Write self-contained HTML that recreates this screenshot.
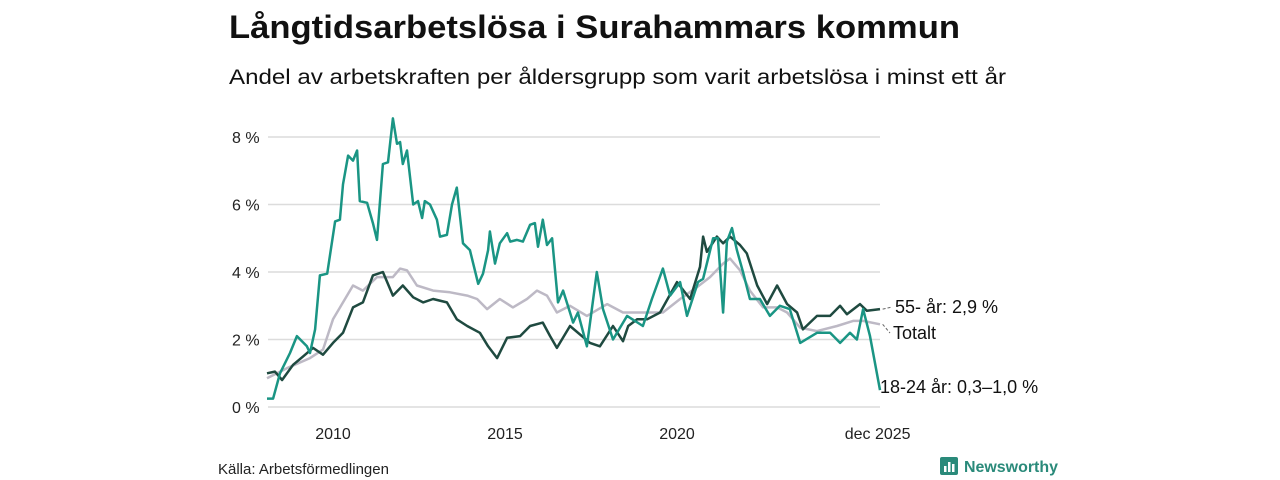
<!DOCTYPE html>
<html><head><meta charset="utf-8"><style>
html,body{margin:0;padding:0;background:#fff;}
svg{display:block;font-family:"Liberation Sans","DejaVu Sans",sans-serif;}
</style></head><body>
<svg id="chart" width="1280" height="480" viewBox="0 0 1280 480">
<text x="229" y="38" font-size="32" font-weight="bold" fill="#111" textLength="731" lengthAdjust="spacingAndGlyphs">Långtidsarbetslösa i Surahammars kommun</text>
<text x="229" y="84" font-size="21" fill="#111" textLength="777" lengthAdjust="spacingAndGlyphs">Andel av arbetskraften per åldersgrupp som varit arbetslösa i minst ett år</text>
<g id="grid"></g>
<g id="yticks"></g>
<g id="xticks"></g>
<g id="series"></g>
<g id="labels"></g>
<text x="218" y="474" font-size="15" fill="#222">Källa: Arbetsförmedlingen</text>
<g>
<rect x="940" y="457" width="18" height="18" rx="2" fill="#2a8a7a"/>
<rect x="944" y="466" width="2.5" height="6" fill="#fff"/><rect x="948" y="462" width="2.5" height="10" fill="#fff"/><rect x="952" y="464" width="2.5" height="8" fill="#fff"/>
<text x="964" y="472" font-size="16" font-weight="bold" fill="#2a8a7a" textLength="94" lengthAdjust="spacingAndGlyphs">Newsworthy</text>
</g>
</svg>
<script>
const yTicks=[0,2,4,6,8];
const yTickLabels=["0 %","2 %","4 %","6 %","8 %"];
const xTicks=[2010,2015,2020,2025.92];
const xTickLabels=["2010","2015","2020","dec 2025"];
const youthDates=[2008.08,2008.26,2008.46,2008.75,2008.95,2009.24,2009.33,2009.48,2009.62,2009.83,2010.06,2010.2,2010.29,2010.44,2010.58,2010.7,2010.78,2010.99,2011.16,2011.28,2011.45,2011.6,2011.74,2011.86,2011.95,2012.03,2012.15,2012.33,2012.47,2012.59,2012.67,2012.82,2013.02,2013.11,2013.31,2013.46,2013.6,2013.78,2013.98,2014.22,2014.36,2014.51,2014.56,2014.71,2014.85,2015.06,2015.15,2015.35,2015.52,2015.73,2015.87,2015.96,2016.1,2016.22,2016.37,2016.54,2016.69,2016.89,2016.98,2017.12,2017.38,2017.67,2017.85,2018.14,2018.55,2019.01,2019.27,2019.59,2019.8,2020.09,2020.29,2020.61,2020.76,2021.05,2021.19,2021.34,2021.45,2021.6,2021.74,2021.92,2022.12,2022.41,2022.7,2022.99,2023.28,2023.58,2024.07,2024.45,2024.74,2025.03,2025.23,2025.41,2025.61,2025.9];
const youthValues=[0.25,0.25,1.0,1.6,2.1,1.8,1.6,2.3,3.9,3.95,5.5,5.55,6.6,7.45,7.3,7.6,6.1,6.05,5.45,4.95,7.2,7.25,8.55,7.8,7.85,7.2,7.6,6.0,6.1,5.6,6.1,6.0,5.55,5.05,5.1,6.0,6.5,4.85,4.65,3.65,3.95,4.65,5.2,4.25,4.85,5.15,4.9,4.95,4.9,5.4,5.45,4.75,5.55,4.8,5.0,3.1,3.45,2.8,2.5,2.8,1.8,4.0,2.9,2.0,2.7,2.4,3.2,4.1,3.3,3.7,2.7,3.7,3.8,5.0,5.0,2.8,4.9,5.3,4.65,4.0,3.2,3.2,2.7,3.0,2.9,1.9,2.2,2.2,1.9,2.2,2.0,2.9,2.1,0.5];
const olderDates=[2008.08,2008.31,2008.52,2008.84,2009.13,2009.42,2009.71,2010,2010.29,2010.58,2010.87,2011.16,2011.45,2011.74,2012.03,2012.33,2012.62,2012.91,2013.31,2013.6,2013.9,2014.27,2014.51,2014.77,2015.06,2015.44,2015.73,2016.1,2016.31,2016.51,2016.89,2017.47,2017.76,2018.14,2018.43,2018.58,2018.84,2019.13,2019.51,2020,2020.38,2020.67,2020.76,2020.87,2021.16,2021.34,2021.54,2021.83,2022.03,2022.33,2022.62,2022.91,2023.2,2023.49,2023.66,2024.07,2024.45,2024.74,2024.94,2025.32,2025.52,2025.9];
const olderValues=[1.0,1.05,0.8,1.25,1.5,1.75,1.55,1.9,2.2,2.95,3.1,3.9,4.0,3.3,3.6,3.25,3.1,3.2,3.1,2.6,2.4,2.2,1.8,1.45,2.05,2.1,2.4,2.5,2.1,1.75,2.4,1.9,1.8,2.4,1.95,2.4,2.6,2.6,2.8,3.7,3.2,4.15,5.05,4.6,5.05,4.85,5.05,4.8,4.55,3.6,3.05,3.6,3.05,2.8,2.3,2.7,2.7,3.0,2.75,3.05,2.85,2.9];
const totalDates=[2008.08,2008.66,2009.33,2009.71,2010,2010.29,2010.58,2010.87,2011.28,2011.74,2011.95,2012.15,2012.44,2012.91,2013.4,2013.9,2014.19,2014.48,2014.85,2015.23,2015.64,2015.93,2016.22,2016.51,2016.89,2017.38,2017.97,2018.43,2019.01,2019.59,2020.09,2020.58,2020.96,2021.34,2021.54,2021.83,2022.12,2022.5,2022.91,2023.2,2023.58,2024.07,2024.65,2025.12,2025.41,2025.9];
const totalValues=[0.85,1.15,1.45,1.7,2.6,3.1,3.6,3.45,3.85,3.85,4.1,4.05,3.6,3.45,3.4,3.3,3.2,2.9,3.2,2.95,3.2,3.45,3.3,2.8,3.0,2.7,3.05,2.8,2.8,2.8,3.2,3.55,3.85,4.25,4.4,4.05,3.45,2.95,2.95,2.8,2.35,2.25,2.4,2.55,2.55,2.45];

const NS="http://www.w3.org/2000/svg";
function xS(t){return 333+(t-2010)*34.4;}
function yS(v){return 407-v*33.75;}
function mk(tag,attrs,parent){const e=document.createElementNS(NS,tag);for(const k in attrs)e.setAttribute(k,attrs[k]);parent.appendChild(e);return e;}
const grid=document.getElementById('grid'),yt=document.getElementById('yticks'),xt=document.getElementById('xticks'),ser=document.getElementById('series'),lab=document.getElementById('labels');
yTicks.forEach((v,i)=>{
  const l=mk('line',{x1:268,x2:880,y1:yS(v),y2:yS(v),stroke:'#dcdcdc','stroke-width':1.5},grid);
  
  
  const t=mk('text',{x:232,y:yS(v)+6,'font-size':16,fill:'#222'},yt);
  t.textContent=yTickLabels[i];
  
  
});
xTicks.forEach((v,i)=>{
  const t=mk('text',{x:xS(v),y:439,'font-size':16,fill:'#222','text-anchor':i===3?'middle':'middle'},xt);
  if(i===3)t.setAttribute('x',xS(v)-3);
  t.textContent=xTickLabels[i];
  
  
});
function line(d,v,color,w,name){
  const p=mk('path',{d:d.map((t,i)=>(i?'L':'M')+xS(t).toFixed(1)+','+yS(v[i]).toFixed(1)).join(''),fill:'none',stroke:color,'stroke-width':w,'stroke-linejoin':'round'},ser);
  
  
}
line(totalDates,totalValues,'#bdb9c5',2.5,'line-totalt');
line(olderDates,olderValues,'#1f4a40',2.5,'line-55-ar');
line(youthDates,youthValues,'#1a9584',2.5,'line-18-24-ar');
function label(txt,x,y,lx,ly,name){
  const c=mk('path',{d:'M'+lx+','+ly+' L'+(x-3)+','+(y-6),stroke:'#666','stroke-width':1,'stroke-dasharray':'3,2',fill:'none'},lab);
  
  
  const t=mk('text',{x:x,y:y,'font-size':18,fill:'#111'},lab);
  t.textContent=txt;
  
  
}
label('55- år: 2,9 %',895,313,xS(2025.92)+2,yS(olderValues[olderValues.length-1]),'label-55-ar');
label('Totalt',893,339,xS(2025.92)+2,yS(totalValues[totalValues.length-1]),'label-totalt');
const t3=mk('text',{x:880,y:393,'font-size':18,fill:'#111'},lab);
t3.textContent='18-24 år: 0,3–1,0 %';


</script>
</body></html>
